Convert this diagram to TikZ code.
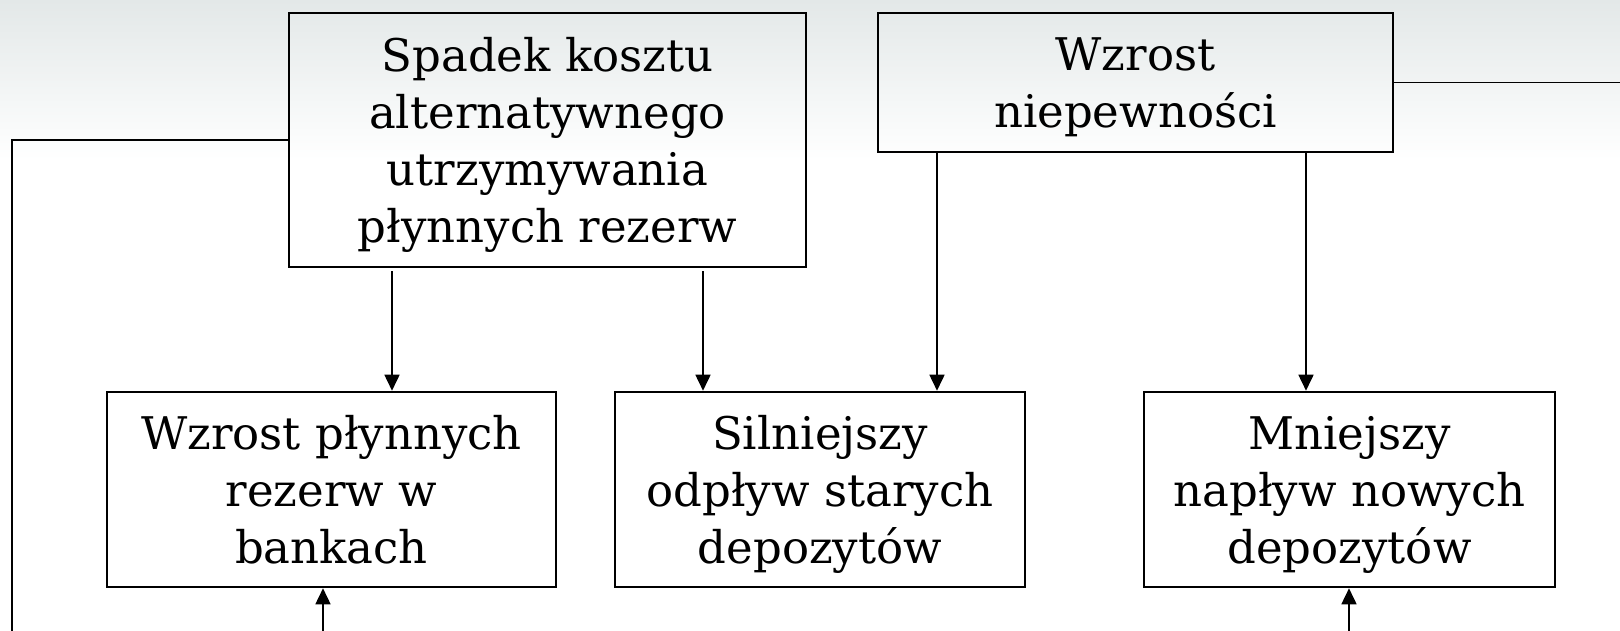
\documentclass[tikz,border=0pt]{standalone}
\usepackage{fontspec}
\setmainfont{DejaVu Serif}
\usetikzlibrary{arrows.meta}
% uniform line box: 45pt above and 12pt below each baseline
\newcommand{\ls}{\rule[-12pt]{0pt}{57pt}}
\definecolor{slidetop}{RGB}{227,232,232}
\begin{document}
\begin{tikzpicture}[x=1pt,y=-1pt,
  box/.style={draw=black, line width=2.6pt, inner sep=0pt, align=center,
    font=\fontsize{45}{57}\selectfont},
  link/.style={line width=1.7pt, draw=black},
  arr/.style={link, -{Triangle[length=16pt,width=15pt]}}]

% page area and slide background
\useasboundingbox (0,0) rectangle (1620,630);
\clip (0,0) rectangle (1620,630);
\fill[white] (0,0) rectangle (1620,630);
\shade[top color=slidetop, bottom color=white] (0,0) rectangle (1620,160);

% boxes
\node[box, minimum width=517pt, minimum height=254pt] (b1) at (547.5,140)
  {\ls Spadek kosztu\\\ls alternatywnego\\\ls utrzymywania\\\ls płynnych rezerw};
\node[box, minimum width=515pt, minimum height=139pt] (b2) at (1135.5,82.5)
  {\ls Wzrost\\\ls niepewności};
\node[box, minimum width=449pt, minimum height=195pt] (b3) at (331.5,489.5)
  {\ls Wzrost płynnych\\\ls rezerw w\\\ls bankach};
\node[box, minimum width=410pt, minimum height=195pt] (b4) at (820,489.5)
  {\ls Silniejszy\\\ls odpływ starych\\\ls depozytów};
\node[box, minimum width=411pt, minimum height=195pt] (b5) at (1349.5,489.5)
  {\ls Mniejszy\\\ls napływ nowych\\\ls depozytów};

% columns of the vertical arrows
\coordinate (c1) at (392,0);
\coordinate (c2) at (703,0);
\coordinate (c3) at (937,0);
\coordinate (c4) at (1306,0);

% downward arrows
\draw[arr, shorten <=3pt] (c1 |- b1.south) -- (c1 |- b3.north);
\draw[arr, shorten <=3pt] (c2 |- b1.south) -- (c2 |- b4.north);
\draw[arr] (c3 |- b2.south) -- (c3 |- b4.north);
\draw[arr] (c4 |- b2.south) -- (c4 |- b5.north);

% arrows entering from below
\coordinate (in3) at (323,645);
\coordinate (in5) at (1349,645);
\draw[arr] (in3) -- (in3 |- b3.south);
\draw[arr] (in5) -- (in5 |- b5.south);

% feedback line on the left and outgoing line on the right
\coordinate (fb) at (12,645);
\draw[link] (b1.west) -| (fb);
\coordinate (out) at (1630,82.5);
\draw[link] (b2.east) -- (out);
\end{tikzpicture}
\end{document}
